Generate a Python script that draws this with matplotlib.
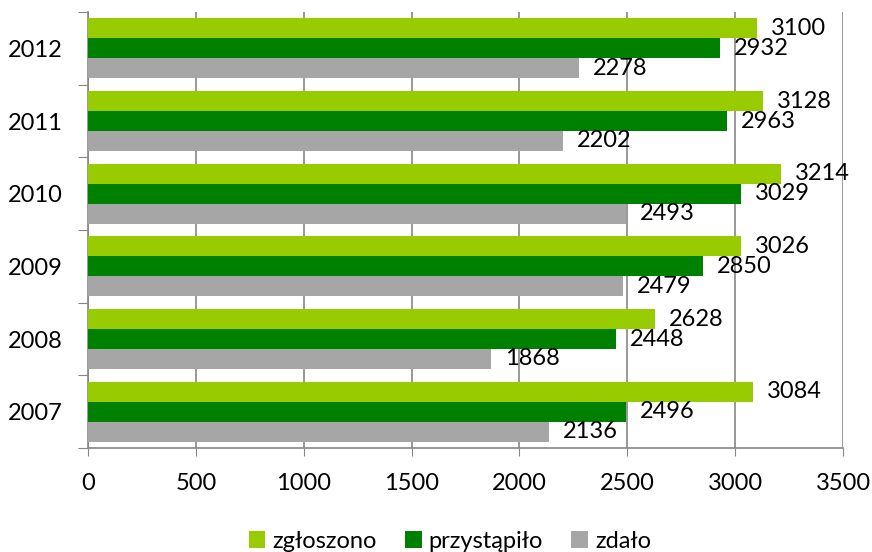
import matplotlib.pyplot as plt
import numpy as np

plt.rcParams['font.family'] = ['Lato', 'DejaVu Sans']

# data
years = ['2007', '2008', '2009', '2010', '2011', '2012']
zgloszono = [3084, 2628, 3026, 3214, 3128, 3100]
przystapilo = [2496, 2448, 2850, 3029, 2963, 2932]
zdalo = [2136, 1868, 2479, 2493, 2202, 2278]
series_names = ['zgłoszono', 'przystąpiło', 'zdało']
colors = ['#99CC00', '#008000', '#A6A6A6']

fs = 17

fig = plt.figure(figsize=(8.72, 5.52), dpi=100)
ax = fig.add_axes([88 / 872, 1 - 448 / 552, (843 - 88) / 872, (448 - 12) / 552])

y = np.arange(len(years))
h = 0.275
offsets = [h, 0, -h]
for vals, name, col, off in zip([zgloszono, przystapilo, zdalo], series_names, colors, offsets):
    bars = ax.barh(y + off, vals, height=h, color=col, label=name, zorder=3)
    for b, v in zip(bars, vals):
        ax.annotate(str(v), (v, b.get_y() + b.get_height() / 2), xytext=(10, 0),
                    textcoords='offset points', ha='left', va='center',
                    fontsize=fs, zorder=5)

ax.set_xlim(0, 3500)
ax.set_ylim(-0.5, len(years) - 0.5)
ax.set_xticks(np.arange(0, 3501, 500))
ax.tick_params(axis='x', labelsize=fs, length=6, color='#868686', pad=12)

# category boundary ticks, labels at centers
ax.set_yticks(np.arange(-0.5, len(years), 1))
ax.set_yticklabels([])
ax.tick_params(axis='y', which='major', length=7, color='#868686')
ax.set_yticks(y, minor=True)
ax.set_yticklabels(years, minor=True)
ax.tick_params(axis='y', which='minor', length=0, labelsize=fs, pad=18)

ax.grid(axis='x', color='#868686', linewidth=1.2, zorder=0)
for s in ['top', 'right']:
    ax.spines[s].set_visible(False)
for s in ['left', 'bottom']:
    ax.spines[s].set_color('#868686')
    ax.spines[s].set_linewidth(1.2)

fig.legend(loc='center', bbox_to_anchor=(0.516, 1 - 541 / 552), ncol=3, frameon=False,
           fontsize=fs, handlelength=0.7, handleheight=0.7, handletextpad=0.3,
           columnspacing=1.2)

plt.savefig('out.png', dpi=100)
